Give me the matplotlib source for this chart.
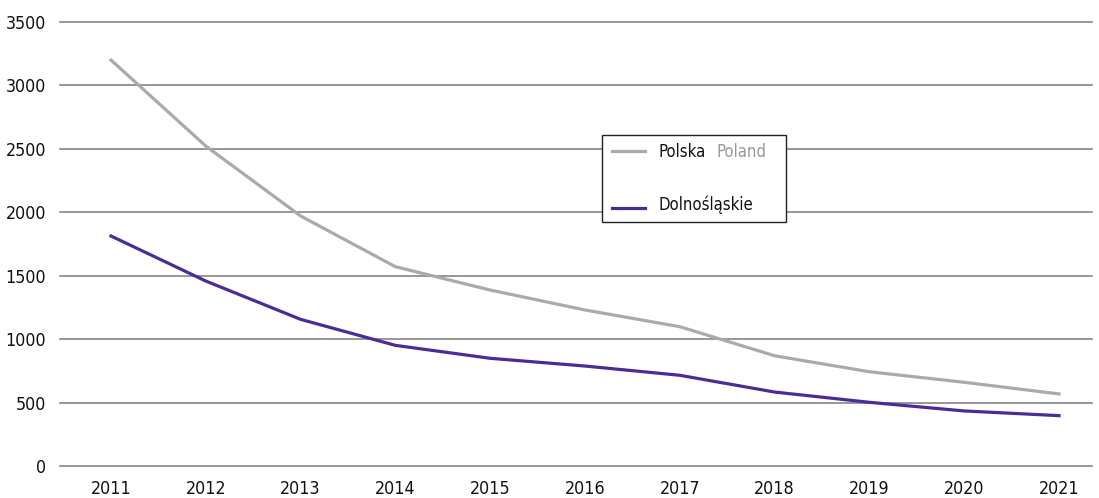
import matplotlib
matplotlib.use('Agg')
import matplotlib.pyplot as plt
from matplotlib import font_manager
from matplotlib.patches import Rectangle
from matplotlib.lines import Line2D

years = [2011, 2012, 2013, 2014, 2015, 2016, 2017, 2018, 2019, 2020, 2021]
polska = [3200, 2522, 1971, 1571, 1387, 1230, 1098, 869, 743, 660, 568]
dolnoslaskie = [1813, 1458, 1156, 951, 849, 788, 715, 583, 502, 434, 397]

# look for a narrow sans face, the reference uses a condensed font
narrow = None
for f in font_manager.fontManager.ttflist:
    if f.style != 'normal' or f.weight not in (400, 'normal', 'regular'):
        continue
    if 'Narrow' in f.name or 'Condensed' in f.name or f.stretch in ('condensed', 'semi-condensed'):
        if 'Mono' in f.name or 'Serif' in f.name:
            continue
        narrow = f
        break

if narrow is not None:
    fp = font_manager.FontProperties(fname=narrow.fname)
    fs = 12.8
    fs_leg = 12
else:
    fp = font_manager.FontProperties(family='DejaVu Sans')
    fs = 11.5
    fs_leg = 11

gray = '#aaaaaa'
purple = '#4a2c98'

fig = plt.figure(figsize=(10.99, 4.98), dpi=100)
ax = fig.add_axes([60/1099, 1 - 466/498, 1032/1099, 444/498])

ax.plot(years, polska, color=gray, lw=2.3, solid_joinstyle='round')
ax.plot(years, dolnoslaskie, color=purple, lw=2.3, solid_joinstyle='round')

ax.set_ylim(0, 3500)
ax.set_xlim(2010.462, 2021.348)
ax.set_yticks(range(0, 3501, 500))
ax.set_xticks(years)
ax.set_xticklabels([str(y) for y in years])
ax.yaxis.grid(True, color='#858585', lw=1.2)
ax.set_axisbelow(True)
for gl in ax.get_ygridlines():
    gl.set_clip_on(False)
for s in ax.spines.values():
    s.set_visible(False)
ax.tick_params(axis='both', length=0, colors='#111111')
ax.tick_params(axis='y', pad=10)
ax.tick_params(axis='x', pad=10)
for lab in ax.get_xticklabels() + ax.get_yticklabels():
    lab.set_fontproperties(fp)
    lab.set_fontsize(fs)

# legend box
W, H = 1099, 498
def fx(x):
    return x / W
def fy(y):
    return 1 - y / H

fig.patches.append(Rectangle((fx(602), fy(222)), fx(786) - fx(602), fy(135) - fy(222),
                             transform=fig.transFigure, facecolor='white',
                             edgecolor='#222222', lw=1.0, zorder=5))
fig.lines.append(Line2D([fx(612), fx(645)], [fy(151), fy(151)], transform=fig.transFigure,
                        color=gray, lw=2.3, zorder=6))
fig.lines.append(Line2D([fx(612), fx(645)], [fy(208), fy(208)], transform=fig.transFigure,
                        color=purple, lw=2.3, zorder=6))
t1 = fig.text(fx(659), fy(152), 'Polska', fontproperties=fp, fontsize=fs_leg,
              color='#111111', va='center', zorder=7)
fig.canvas.draw()
bb = t1.get_window_extent()
fig.text((bb.x1 + 10) / W, fy(152), 'Poland', fontproperties=fp, fontsize=fs_leg,
         color='#999999', va='center', zorder=7)
fig.text(fx(659), fy(205), 'Dolnośląskie', fontproperties=fp, fontsize=fs_leg,
         color='#111111', va='center', zorder=7)

fig.savefig('out.png', dpi=100)
